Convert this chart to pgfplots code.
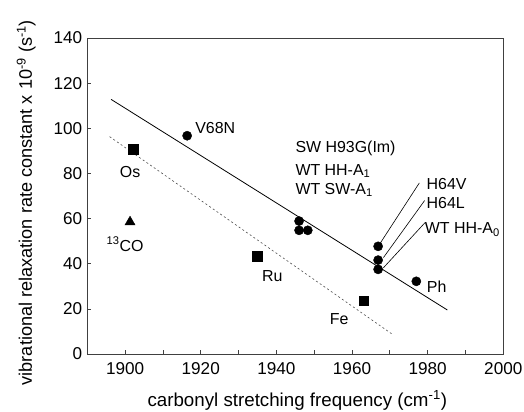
\documentclass[border=0pt]{standalone}
\usepackage{fontspec}
\setmainfont{Liberation Sans}
\usepackage{pgfplots}
\pgfplotsset{compat=1.18}
\tikzset{annot/.style={font=\fontsize{16}{19}\selectfont, inner sep=0pt}}
\begin{document}
\begin{tikzpicture}
\begin{axis}[
  scale only axis, width=416bp, height=316bp,
  xmin=1890, xmax=2000, ymin=0, ymax=140,
  xtick={1900,1920,...,2000}, minor xtick={1890,1910,...,1990},
  ytick={0,20,...,140},
  xtick pos=bottom, ytick pos=left,
  tick align=inside, major tick length=4bp, minor tick length=4bp,
  axis line style={black!75, line width=0.8bp},
  every tick/.style={black!75, line width=0.7bp},
  /pgf/number format/assume math mode=true,
  /pgf/number format/1000 sep={},
  ticklabel style={font=\fontsize{17.2}{20}\selectfont},
  xticklabel style={yshift=-5bp},
  yticklabel style={xshift=-1.5bp},
  xlabel={carbonyl stretching frequency (cm\textsuperscript{-1})},
  ylabel={vibrational relaxation rate constant x 10\textsuperscript{-9} (s\textsuperscript{-1})},
  xlabel style={font=\fontsize{18.8}{22}\selectfont, at={(axis description cs:0.5,0)}, anchor=base, yshift=-52bp, xshift=2bp},
  ylabel style={font=\fontsize{18.2}{22}\selectfont, at={(axis description cs:0,0.479)}, anchor=base, yshift=55.5bp},
  clip=false,
]
% fit lines
\addplot[black, line width=0.8bp, no marks] coordinates {(1896.3,112.8) (1985.2,19.5)};
\addplot[black!70, line width=0.6bp, dash pattern=on 2bp off 2.5bp, no marks] coordinates {(1895.9,96.3) (1970.7,8.7)};
% leader lines
\addplot[black, line width=0.6bp, no marks] coordinates {(1967.5,49.2) (1977.8,75.8)};
\addplot[black, line width=0.6bp, no marks] coordinates {(1968.3,42.7) (1979.2,68.0)};
\addplot[black, line width=0.6bp, no marks] coordinates {(1968.3,38.2) (1979.3,58.2)};
% circles
\addplot[only marks, mark=*, mark size=4.6bp, black] coordinates {
  (1916.4,96.7) (1946.0,58.9) (1946.0,54.8) (1948.3,54.8)
  (1966.9,47.7) (1966.9,41.6) (1966.9,37.5) (1977.0,32.2)};
% squares
\addplot[only marks, mark=square*, mark size=4.8bp, black] coordinates {
  (1902.2,90.8) (1934.9,43.3) (1963.1,23.6)};
% triangle
\addplot[only marks, mark=triangle*, mark size=5.8bp, black] coordinates {(1901.3,58.5)};
% labels
\node[annot, anchor=west] at (axis cs:1918.5,100.1) {V68N};
\node[annot] at (axis cs:1901.3,80.5) {Os};
\node[annot] at (axis cs:1900,48.6) {\textsuperscript{13}CO};
\node[annot] at (axis cs:1938.9,34.6) {Ru};
\node[annot] at (axis cs:1956.6,15.4) {Fe};
\node[annot] at (axis cs:1982.4,29.8) {Ph};
\node[annot, anchor=west] at (axis cs:1945,91.1) {SW H93G(Im)};
\node[annot, anchor=west] at (axis cs:1945,81.0) {WT HH-A\textsubscript{1}};
\node[annot, anchor=west] at (axis cs:1945,72.7) {WT SW-A\textsubscript{1}};
\node[annot, anchor=west] at (axis cs:1979.7,75.3) {H64V};
\node[annot, anchor=west] at (axis cs:1979.7,66.8) {H64L};
\node[annot, anchor=west] at (axis cs:1979.2,55.0) {WT HH-A\textsubscript{0}};
\end{axis}
\pgfresetboundingbox
\path (current axis.south west) ++(-87.3bp,-58bp) rectangle ++(524bp,412bp);
\end{tikzpicture}
\end{document}
